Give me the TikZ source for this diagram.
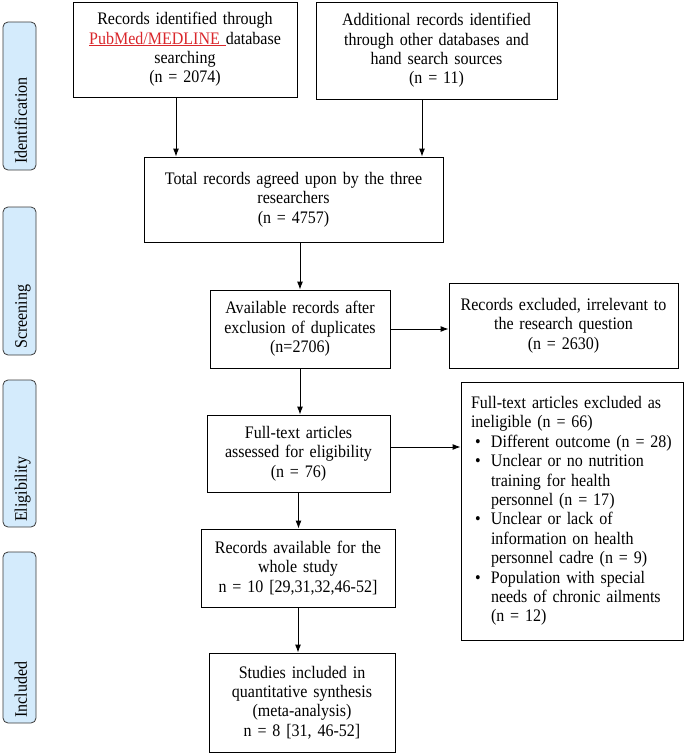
\documentclass[tikz,border=0pt]{standalone}
\usepackage{fontspec}
\setmainfont[FakeStretch=0.91]{Liberation Serif}
\usepackage{xcolor}
\usepackage{tikz}
\usetikzlibrary{arrows.meta}
\definecolor{TabLine}{HTML}{3A3A3A}
\definecolor{TabFill}{HTML}{D4EBFC}
\definecolor{LinkRed}{HTML}{D9262B}
\newcommand{\bul}{\makebox[20pt][l]{\hspace{4pt}\textbullet}}
\newcommand{\ind}{\hspace*{20pt}}

\begin{document}
\begin{tikzpicture}[x=1pt,y=-1pt,font=\fontsize{17.6}{19.4}\selectfont,
  box/.style={draw,line width=0.9pt,align=center,inner sep=0pt},
  arr/.style={-{Latex[length=8pt,width=6pt]},line width=0.9pt},
  tab/.style={draw=TabLine,fill=TabFill,rounded corners=5pt,line width=0.8pt,
    minimum width=33pt,inner sep=0pt},
  tablabel/.style={rotate=90,anchor=base west,inner sep=0pt}]
  \useasboundingbox (0,0) rectangle (685,755);

  % Phase tabs (left)
  \node[tab,minimum height=148pt] (tabId) at (19.5,96) {};
  \node[tablabel] (labId) at (27,164) {Identification};
  \node[tab,minimum height=148pt] (tabScr) at (19.5,281) {};
  \node[tablabel] (labScr) at (27,349) {Screening};
  \node[tab,minimum height=147pt] (tabEl) at (19.5,453.5) {};
  \node[tablabel] (labEl) at (27,522) {Eligibility};
  \node[tab,minimum height=171pt] (tabIn) at (19.5,637.5) {};
  \node[tablabel] (labIn) at (27,718) {Included};

  % Identification
  \node[box,text width=224pt,minimum height=95pt] (pubmed) at (185,49.5)
    {Records identified through\\
     \textcolor{LinkRed}{\underline{PubMed/MEDLINE\ }}database\\
     searching\\(n = 2074)};
  \node[box,text width=241pt,minimum height=97pt] (other) at (436.5,50.5)
    {Additional records identified\\through other databases and\\
     hand search sources\\(n = 11)};
  \node[box,text width=299pt,minimum height=85pt] (total) at (293.5,199.5)
    {Total records agreed upon by the three\\researchers\\(n = 4757)};

  % Screening
  \node[box,text width=180pt,minimum height=78pt] (dedup) at (300,329)
    {Available records after\\exclusion of duplicates\\(n=2706)};
  \node[box,text width=229pt,minimum height=85pt] (irrel) at (563.5,325.5)
    {Records excluded, irrelevant to\\the research question\\(n = 2630)};

  % Eligibility
  \node[box,text width=183pt,minimum height=77pt] (fulltext) at (298.5,453.5)
    {Full-text articles\\assessed for eligibility\\(n = 76)};
  \node[box,align=left,text width=202pt,inner xsep=10pt,minimum height=258pt]
    (inelig) at (572,511)
    {Full-text articles excluded as\\
     ineligible (n = 66)\\
     \bul Different outcome (n = 28)\\
     \bul Unclear or no nutrition\\
     \ind training for health\\
     \ind personnel (n = 17)\\
     \bul Unclear or lack of\\
     \ind information on health\\
     \ind personnel cadre (n = 9)\\
     \bul Population with special\\
     \ind needs of chronic ailments\\
     \ind (n = 12)};
  \node[box,text width=194pt,minimum height=78pt] (whole) at (298,568)
    {Records available for the\\whole study\\n = 10 [29,31,32,46-52]};

  % Included
  \node[box,text width=186pt,minimum height=99pt] (meta) at (302,702.5)
    {Studies included in\\quantitative synthesis\\(meta-analysis)\\n = 8 [31, 46-52]};

  % Arrows
  \draw[arr] ([xshift=-9pt]pubmed.south) -- ([xshift=-9pt]pubmed.south |- total.north);
  \draw[arr] ([xshift=-14.5pt]other.south) -- ([xshift=-14.5pt]other.south |- total.north);
  \draw[arr] (total.south -| dedup.north) -- (dedup.north);
  \draw[arr] (dedup.east) -- (dedup.east -| irrel.west);
  \draw[arr] (dedup.south) -- (dedup.south |- fulltext.north);
  \draw[arr] ([yshift=6.5pt]fulltext.east) -- ([yshift=6.5pt]fulltext.east -| inelig.west);
  \draw[arr] (fulltext.south) -- (fulltext.south |- whole.north);
  \draw[arr] (whole.south) -- (whole.south |- meta.north);
\end{tikzpicture}
\end{document}
